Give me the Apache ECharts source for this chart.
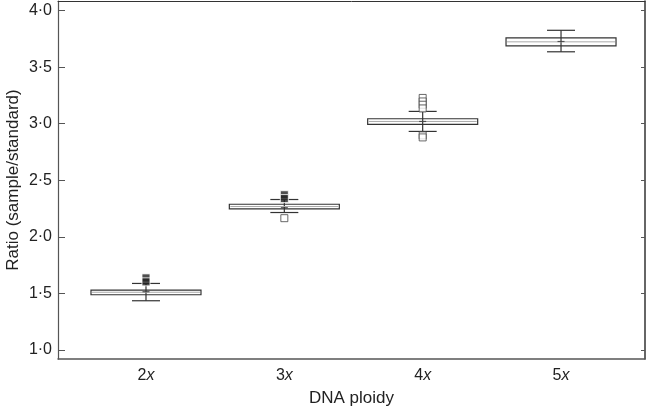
<!DOCTYPE html>
<html>
<head>
<meta charset="utf-8">
<script src="https://cdn.jsdelivr.net/npm/echarts@6/dist/echarts.min.js"></script>
<style>
  html, body { margin: 0; padding: 0; background: #fff; }
  #chart { width: 649px; height: 409px; }
</style>
</head>
<body>
<div id="chart"></div>
<script>
// ploidy levels and their box statistics
const ploidy = [2, 3, 4, 5];
const ploidyLabels = ["2", "3", "4", "5"];
const whiskerLow = [1.435, 2.215, 2.932, 3.636];
const q1 = [1.488, 2.247, 2.994, 3.689];
const median = [1.51, 2.268, 3.02, 3.724];
const q3 = [1.529, 2.288, 3.044, 3.759];
const whiskerHigh = [1.588, 2.33, 3.109, 3.826];
const mean = [1.515, 2.258, 3.02, 3.727];

// outliers [ploidy, ratio]
const outliersFilled = [[2, 1.637], [2, 1.602], [3, 2.372], [3, 2.338]];
const outliersOpen = [
  [3, 2.165],
  [4, 3.228], [4, 3.197], [4, 3.168], [4, 3.135],
  [4, 2.897], [4, 2.879],
];

const yTicks = [1, 1.5, 2, 2.5, 3, 3.5, 4];

const INK = "#333";
const FONT = { fontFamily: "'Liberation Sans', Arial, sans-serif", color: "#222", fontSize: 16 };
const TITLE = { ...FONT, fontSize: 17 };

const boxData = ploidy.map((p, i) => [p, whiskerLow[i], q1[i], median[i], q3[i], whiskerHigh[i]]);
const meanData = ploidy.map((p, i) => [p, mean[i]]);

const BOX_W = 110, CAP_W = 28;

function renderBox(params, api) {
  const x = api.value(0);
  const lo = api.coord([x, api.value(1)]);
  const b1 = api.coord([x, api.value(2)]);
  const md = api.coord([x, api.value(3)]);
  const b3 = api.coord([x, api.value(4)]);
  const hi = api.coord([x, api.value(5)]);
  const cx = lo[0];
  const line = (x1, y1, x2, y2, stroke, w) => ({
    type: "line", shape: { x1, y1, x2, y2 }, style: { stroke, lineWidth: w },
  });
  return {
    type: "group",
    children: [
      line(cx, lo[1], cx, hi[1], INK, 1.2),
      line(cx - CAP_W / 2, lo[1], cx + CAP_W / 2, lo[1], INK, 1.2),
      line(cx - CAP_W / 2, hi[1], cx + CAP_W / 2, hi[1], INK, 1.2),
      {
        type: "rect",
        shape: { x: cx - BOX_W / 2, y: b3[1], width: BOX_W, height: b1[1] - b3[1] },
        style: { fill: "none", stroke: INK, lineWidth: 1.2 },
      },
      line(cx - BOX_W / 2 + 1, md[1], cx + BOX_W / 2 - 1, md[1], "#aaa", 1),
    ],
  };
}

const chart = echarts.init(document.getElementById("chart"), null, { renderer: "canvas" });

const xRange = { min: 1.364, max: 5.607 };
const yRange = { min: 0.92, max: 4.085 };

chart.setOption({
  animation: false,
  backgroundColor: "#fff",
  grid: { left: 58, right: 4, top: 1, bottom: 50, containLabel: false, outerBoundsMode: "none" },
  xAxis: [
    {
      type: "value", ...xRange,
      axisLine: { show: true, lineStyle: { color: "#555", width: 1.5 } },
      axisTick: { show: false },
      splitLine: { show: false },
      axisLabel: {
        ...FONT, margin: 9,
        customValues: ploidy,
        formatter: (v) => `{n|${ploidyLabels[ploidy.indexOf(v)]}}{i|x}`,
        rich: {
          n: { ...FONT },
          i: { ...FONT, fontStyle: "italic" },
        },
      },
      name: "DNA ploidy", nameLocation: "middle", nameGap: 31,
      nameTextStyle: { ...TITLE },
    },
    {
      type: "value", ...xRange, position: "top",
      axisLine: { show: true, lineStyle: { color: INK, width: 1 } },
      axisTick: { show: false }, axisLabel: { show: false },
      splitLine: { show: false },
    },
  ],
  yAxis: [
    {
      type: "value", ...yRange,
      axisLine: { show: true, lineStyle: { color: "#555", width: 1.2 } },
      axisTick: { show: true, inside: true, length: 7, customValues: yTicks, lineStyle: { color: "#555" } },
      splitLine: { show: false },
      axisLabel: {
        ...FONT, margin: 6,
        customValues: yTicks,
        formatter: (v) => v.toFixed(1).replace(".", "·"),
      },
      name: "Ratio (sample/standard)", nameLocation: "middle", nameGap: 36,
      nameMoveOverlap: false,
      nameTextStyle: { ...TITLE },
    },
    {
      type: "value", ...yRange, position: "right",
      axisLine: { show: true, lineStyle: { color: INK, width: 1.5 } },
      axisTick: { show: true, inside: true, length: 4, customValues: yTicks, lineStyle: { color: "#555" } },
      axisLabel: { show: false },
      splitLine: { show: false },
    },
  ],
  series: [
    {
      type: "custom", renderItem: renderBox, data: boxData,
      encode: { x: 0, y: [1, 2, 3, 4, 5] }, z: 2,
    },
    {
      type: "scatter", data: meanData, symbol: "rect", symbolSize: [7, 1.2],
      itemStyle: { color: INK }, z: 3,
    },
    {
      type: "scatter", data: outliersOpen, symbol: "rect", symbolSize: 7,
      itemStyle: { color: "#fff", borderColor: "#444", borderWidth: 1 }, z: 4,
    },
    {
      type: "scatter", data: outliersFilled, symbol: "rect", symbolSize: 8,
      itemStyle: { color: "#222", borderColor: "#fff", borderWidth: 1 }, z: 5,
    },
  ],
});
</script>
</body>
</html>
